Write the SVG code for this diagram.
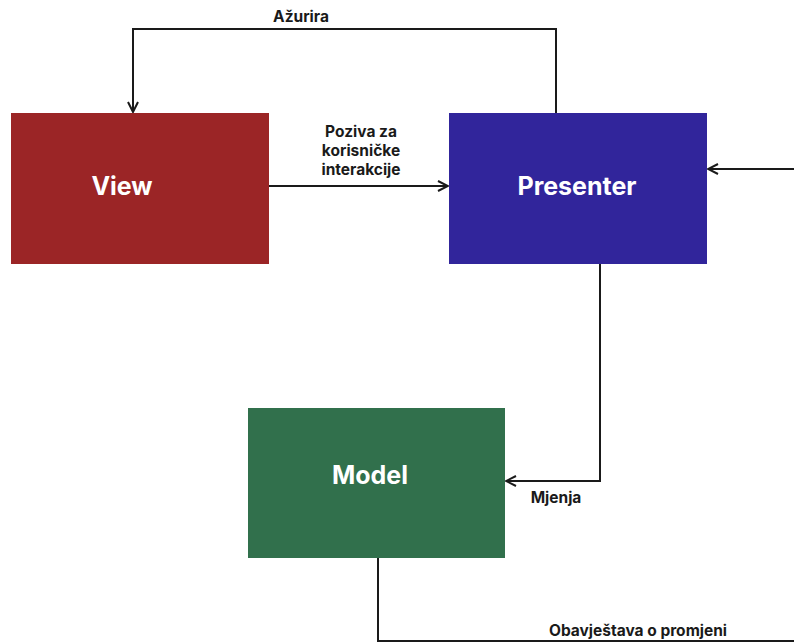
<svg xmlns="http://www.w3.org/2000/svg" width="794" height="644" viewBox="0 0 794 644">
<style>
.node-label{font-family:Inter,"Liberation Sans",sans-serif;font-weight:700;font-size:25px;fill:#ffffff;text-anchor:middle;dominant-baseline:central}
.edge-label{font-family:Inter,"Liberation Sans",sans-serif;font-weight:700;font-size:15.5px;fill:#1a1a1a;text-anchor:middle}
.edge{fill:none;stroke:#1a1a1a;stroke-width:2}
</style>
<defs>
<marker id="arr" viewBox="0 0 12 12" refX="11" refY="6" markerWidth="12" markerHeight="12" markerUnits="userSpaceOnUse" orient="auto">
<path d="M1,1 L11,6 L1,11" fill="none" stroke="#1a1a1a" stroke-width="2"/>
</marker>
</defs>
<rect width="794" height="644" fill="#ffffff"/>
<g id="connectors">
<path class="edge" d="M556,113 V29 H133 V112" marker-end="url(#arr)"/>
<path class="edge" d="M269,186 H448" marker-end="url(#arr)"/>
<path class="edge" d="M794,169 H708" marker-end="url(#arr)"/>
<path class="edge" d="M600,264 V481 H506" marker-end="url(#arr)"/>
<path class="edge" d="M378,558 V641 H794"/>
<text class="edge-label" x="301" y="22">Ažurira</text>
<text class="edge-label" x="361" y="137">Poziva za</text>
<text class="edge-label" x="361" y="156">korisničke</text>
<text class="edge-label" x="361" y="175">interakcije</text>
<text class="edge-label" x="556" y="503">Mjenja</text>
<text class="edge-label" x="638" y="636">Obavještava o promjeni</text>
</g>
<g id="view">
<rect x="11" y="113" width="258" height="151" fill="#9b2526"/>
<text class="node-label" x="122" y="186">View</text>
</g>
<g id="presenter">
<rect x="449" y="113" width="258" height="151" fill="#31259b"/>
<text class="node-label" x="577" y="186">Presenter</text>
</g>
<g id="model">
<rect x="248" y="408" width="257" height="150" fill="#31704c"/>
<text class="node-label" x="370" y="475">Model</text>
</g>
</svg>
